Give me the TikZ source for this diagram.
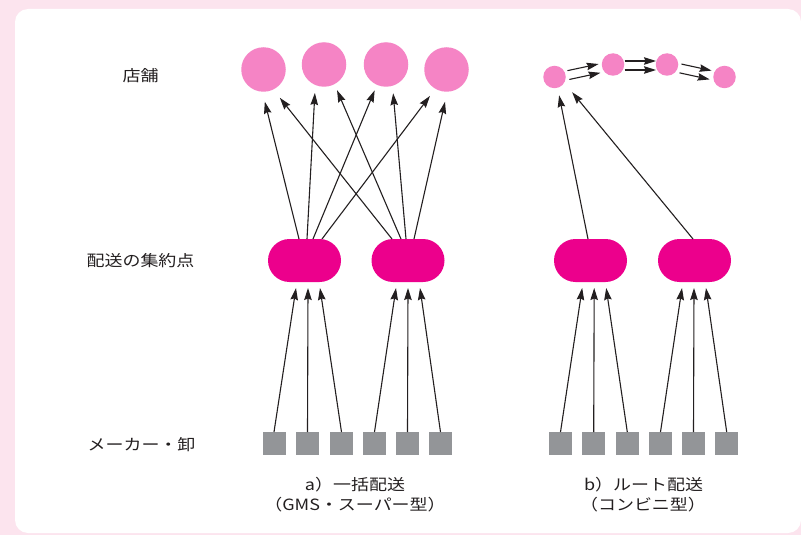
\documentclass[tikz,border=0pt]{standalone}
\usepackage{fontspec}
\newfontfamily\jp{Noto Sans CJK JP}[FakeStretch=1.16]
\usetikzlibrary{arrows.meta,calc,shapes.misc}
\definecolor{bgpink}{HTML}{FCE4EE}
\definecolor{storepink}{HTML}{F584C5}
\definecolor{hubmag}{HTML}{EC008C}
\definecolor{makergray}{HTML}{939598}
\definecolor{inkc}{HTML}{231F20}
\definecolor{txtc}{HTML}{231F20}
\begin{document}
\begin{tikzpicture}[x=1pt,y=-1pt,
  arr/.style={draw=inkc, line width=1.1pt, -{Stealth[length=12pt,width=7.5pt,inset=1.5pt]}},
  store/.style={circle, fill=storepink, inner sep=0pt, outer sep=0pt, minimum size=44.5pt},
  rstore/.style={circle, fill=storepink, inner sep=0pt, outer sep=0pt, minimum size=22.5pt},
  hubn/.style={rounded rectangle, fill=hubmag, inner sep=0pt, outer sep=0pt, minimum width=73pt, minimum height=43pt},
  maker/.style={rectangle, fill=makergray, inner sep=0pt, outer sep=0pt, minimum size=23pt},
  lbl/.style={inner sep=0pt, text=txtc, font=\jp\fontsize{15.5}{20}\selectfont, align=center}]
\useasboundingbox (0,0) rectangle (801,535);
\fill[bgpink] (0,0) rectangle (801,535);
\fill[white, rounded corners=13pt] (15,9) rectangle (801,533);

% stores (a)
\node[store] (c1) at (263.5,69.5) {};
\node[store] (c2) at (324,64.5) {};
\node[store] (c3) at (386,64.5) {};
\node[store] (c4) at (446.5,69.5) {};
% stores (b)
\node[rstore] (r1) at (554.5,77) {};
\node[rstore] (r2) at (613,64.5) {};
\node[rstore] (r3) at (667,64.5) {};
\node[rstore] (r4) at (724.5,77) {};
% hubs
\node[hubn] (p1) at (304.5,260.5) {};
\node[hubn] (p2) at (408,260.5) {};
\node[hubn] (p3) at (590.5,260.5) {};
\node[hubn] (p4) at (694.5,260.5) {};
% makers
\foreach \n/\x in {1/274,2/307.5,3/341.5,4/374.5,5/407.5,6/440.5,7/560.5,8/593.7,9/627.3,10/660.5,11/693.5,12/726.7}
  \node[maker] (s\n) at (\x,443.5) {};

% makers -> hubs
\foreach \p/\a/\b/\c in {p1/s1/s2/s3, p2/s4/s5/s6, p3/s7/s8/s9, p4/s10/s11/s12} {
  \draw[arr] (\a.north) -- ($(\p.south -| \b)+(-11.5,6)$);
  \draw[arr] (\b.north) -- ($(\p.south -| \b)+(0.5,6)$);
  \draw[arr] (\c.north) -- ($(\p.south -| \b)+(12.5,6)$);
}

% hubs -> stores (a)
\draw[arr, shorten >=10.3pt] ($(p1.north)+(-5.5,0)$) -- (c1.267);
\draw[arr, shorten >=8pt]    ($(p1.north)+(2.5,0)$)  -- (c2.247);
\draw[arr, shorten >=6pt]    ($(p1.north)+(8.5,0)$)  -- (c3.246);
\draw[arr, shorten >=9pt]    ($(p1.north)+(17.5,0)$) -- (c4.240);
\draw[arr, shorten >=10.6pt] ($(p2.north)+(-16,0)$)  -- (c1.296);
\draw[arr, shorten >=6.6pt]  ($(p2.north)+(-7,0)$)   -- (c2.298);
\draw[arr, shorten >=7.5pt]  ($(p2.north)+(-2,0)$)   -- (c3.287);
\draw[arr, shorten >=10.3pt] ($(p2.north)+(6,0)$)    -- (c4.272);
% hubs -> route start (b)
\draw[arr, shorten >=7.6pt]  ($(p3.north)+(-2.5,0)$) -- (r1.286);
\draw[arr, shorten >=12.4pt] ($(p4.north)+(-1.5,0)$) -- (r1.330);

% route arrows
\draw[arr] ($(r1)!14pt!(r2)!3.5pt!90:(r2)$) -- ($(r2)!14pt!(r1)!3.5pt!-90:(r1)$);
\draw[arr] ($(r1)!14pt!(r2)!5.5pt!-90:(r2)$) -- ($(r2)!14pt!(r1)!5.5pt!90:(r1)$);
\draw[arr] ($(r2)!11.5pt!(r3)!3.5pt!90:(r3)$) -- ($(r3)!11pt!(r2)!3.5pt!-90:(r2)$);
\draw[arr] ($(r2)!11.5pt!(r3)!5.5pt!-90:(r3)$) -- ($(r3)!11pt!(r2)!5.5pt!90:(r2)$);
\draw[arr] ($(r3)!14pt!(r4)!3.5pt!90:(r4)$) -- ($(r4)!14pt!(r3)!3.5pt!-90:(r3)$);
\draw[arr] ($(r3)!14pt!(r4)!5.5pt!-90:(r4)$) -- ($(r4)!14pt!(r3)!5.5pt!90:(r3)$);

% labels
\node[lbl] (l1) at (140.5,76) {店舗};
\node[lbl] (l2) at (140.5,261) {配送の集約点};
\node[lbl] (l3) at (141.5,444.5) {メーカー・卸};
\node[lbl] (ca1) at (355,485) {a）一括配送};
\node[lbl] (ca2) at (355,505) {（GMS・スーパー型）};
\node[lbl] (cb1) at (643.5,485) {b）ルート配送};
\node[lbl] (cb2) at (643,505) {（コンビニ型）};
\end{tikzpicture}
\end{document}
